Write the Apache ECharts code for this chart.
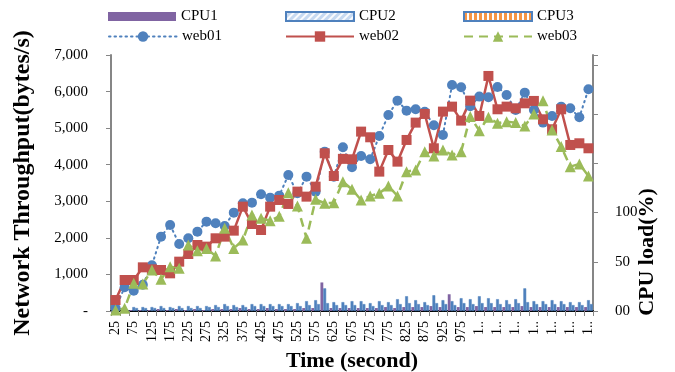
<!DOCTYPE html>
<html>
<head>
<meta charset="utf-8">
<script src="https://cdn.jsdelivr.net/npm/echarts@6/dist/echarts.min.js"></script>
<style>
  html, body { margin: 0; padding: 0; background: #ffffff; }
  #chart { width: 675px; height: 372px; }
</style>
</head>
<body>
<div id="chart"></div>
<script>
// Sampling instants (seconds)
const times = [25, 50, 75, 100, 125, 150, 175, 200, 225, 250, 275, 300, 325, 350, 375, 400, 425, 450,
  475, 500, 525, 550, 575, 600, 625, 650, 675, 700, 725, 750, 775, 800, 825, 850, 875, 900, 925,
  950, 975, 1000, 1025, 1050, 1075, 1100, 1125, 1150, 1175, 1200, 1225, 1250, 1275, 1300, 1325];

// CPU load per server (%)
const cpu1 = [0, 0, 1, 1, 1, 2, 1, 2, 1, 2, 1, 2, 2, 2, 3, 2, 2, 3, 2, 2, 2, 3, 3, 29, 3, 3, 3, 3, 3, 3,
  4, 3, 4, 4, 4, 5, 4, 17, 4, 4, 5, 4, 4, 4, 4, 5, 4, 4, 4, 4, 4, 4, 4];
const cpu2 = [2, 1, 4, 4, 4, 5, 4, 5, 5, 5, 5, 6, 7, 6, 6, 7, 7, 7, 7, 7, 8, 10, 11, 23, 9, 9, 10, 10, 8, 10,
  9, 12, 15, 11, 9, 16, 11, 10, 13, 12, 15, 13, 12, 11, 12, 23, 10, 10, 11, 10, 9, 9, 11];
const cpu3 = [1, 1, 3, 3, 3, 3, 3, 3, 3, 3, 4, 4, 5, 4, 4, 5, 5, 5, 5, 5, 5, 6, 7, 8, 6, 6, 6, 7, 5, 6,
  6, 7, 8, 7, 6, 8, 7, 6, 8, 7, 8, 8, 7, 7, 8, 9, 7, 7, 7, 7, 6, 6, 7];

// Network throughput per web server (bytes/s)
const web01 = [80, 648, 556, 720, 1249, 2033, 2352, 1832, 1988, 2170, 2443, 2397, 2325, 2689, 2944, 2963,
  3191, 3100, 3154, 3720, 3218, 3674, 3263, 4357, 3674, 4476, 3930, 4239, 4148, 4786, 5360, 5752, 5479,
  5516, 5450, 5078, 4813, 6181, 6118, 5600, 5862, 5844, 6127, 5907, 5497, 5971, 5497, 5151, 5333, 5588,
  5543, 5297, 6063];
const web02 = [300, 848, 848, 1194, 1140, 1121, 1030, 1349, 1559, 1805, 1760, 1988, 2033, 2197, 2853, 2379,
  2215, 2853, 3036, 2927, 3264, 3127, 3400, 4312, 3692, 4160, 4148, 4905, 4750, 3811, 4403, 4084, 4677,
  5151, 5388, 4449, 5452, 5588, 5206, 5752, 5333, 6427, 5516, 5588, 5543, 5679, 5744, 5242, 4969, 5516,
  4540, 4586, 4449];
const web03 = [30, 73, 757, 739, 1121, 866, 1213, 1167, 1805, 1650, 1710, 1504, 2262, 1710, 1942, 2626,
  2535, 2470, 2589, 3236, 2872, 1988, 3054, 2945, 2963, 3537, 3328, 3036, 3145, 3218, 3418, 3145, 3810,
  3856, 4357, 4239, 4403, 4266, 4357, 5315, 4932, 5297, 5133, 5178, 5151, 5060, 5388, 5752, 4950, 4495,
  3947, 4021, 3692];

// Axis ranges
const throughputMax = 7000, throughputStep = 1000;
const loadMax = 260, loadStep = 50, loadLabelLimit = 100;

const FONT = '"Liberation Serif", "Times New Roman", serif';
const AXIS_GREY = '#868686';
const BLUE = '#4F81BD', RED = '#C0504D', GREEN = '#9BBB59', PURPLE = '#8064A2', ORANGE = '#F79646';

const chart = echarts.init(document.getElementById('chart'), null, { renderer: 'canvas' });

const legendText = { fontFamily: FONT, fontSize: 15, color: '#000' };
function legendAt(item, left, top, h) {
  return {
    data: [item], left: left, top: top, padding: 0,
    itemWidth: 68, itemHeight: h, selectedMode: false,
    textStyle: legendText
  };
}

const option = {
  animation: false,
  backgroundColor: '#ffffff',
  textStyle: { fontFamily: FONT },
  legend: [
    legendAt({ name: 'CPU1', icon: 'rect', itemStyle: { color: PURPLE, borderWidth: 0 } }, 108, 9, 9),
    legendAt({ name: 'CPU2', icon: 'rect', itemStyle: {
      color: '#C6D9F1', borderColor: BLUE, borderWidth: 2,
      decal: { symbol: 'rect', color: 'rgba(255,255,255,0.9)', dashArrayX: [1, 0], dashArrayY: [2, 3], rotation: -Math.PI / 4 }
    } }, 285, 9, 9),
    legendAt({ name: 'CPU3', icon: 'rect', itemStyle: {
      color: '#ffffff', borderColor: BLUE, borderWidth: 2,
      decal: { symbol: 'rect', color: ORANGE, dashArrayX: [3, 2], dashArrayY: [1, 0], rotation: 0 }
    } }, 463, 9, 9),
    legendAt('web01', 108, 29, 13),
    legendAt('web02', 285, 29, 13),
    legendAt('web03', 463, 29, 13)
  ],
  grid: { left: 111, right: 82, top: 55, bottom: 61, containLabel: false, outerBoundsMode: 'none' },
  xAxis: [{
    type: 'category',
    data: times,
    boundaryGap: true,
    name: 'Time (second)',
    nameLocation: 'middle',
    nameGap: 36,
    nameTextStyle: { fontFamily: FONT, fontSize: 22, fontWeight: 'bold', color: '#000' },
    axisLine: { lineStyle: { color: AXIS_GREY, width: 1.5 } },
    axisTick: { show: true, interval: 0, length: 5, lineStyle: { color: AXIS_GREY, width: 1 } },
    axisLabel: {
      interval: 1, rotate: 90, margin: 10,
      fontFamily: FONT, fontSize: 14, color: '#000',
      formatter: v => (Number(v) >= 1000 ? '1..' : String(v))
    },
    splitLine: { show: false }
  }, {
    type: 'category',
    data: times,
    position: 'top',
    axisLine: { lineStyle: { color: '#000', width: 2 } },
    axisTick: { show: false },
    axisLabel: { show: false },
    splitLine: { show: false }
  }],
  yAxis: [{
    type: 'value',
    min: 0, max: throughputMax, interval: throughputStep,
    name: 'Network Throughput(bytes/s)',
    nameLocation: 'middle',
    nameGap: 76,
    nameTextStyle: { fontFamily: FONT, fontSize: 24, fontWeight: 'bold', color: '#000' },
    axisLine: { show: true, lineStyle: { color: AXIS_GREY, width: 2 } },
    axisTick: { show: true, length: 5, lineStyle: { color: AXIS_GREY, width: 1 } },
    axisLabel: {
      margin: 23, fontFamily: FONT, fontSize: 15, color: '#000',
      formatter: v => (v === 0 ? '-' : v.toLocaleString('en-US'))
    },
    splitLine: { show: false }
  }, {
    type: 'value',
    position: 'right',
    min: 0, max: loadMax, interval: loadStep,
    axisLine: { show: true, lineStyle: { color: AXIS_GREY, width: 2 } },
    axisTick: { show: true, length: 5, lineStyle: { color: AXIS_GREY, width: 1 } },
    axisLabel: {
      margin: 22, fontFamily: FONT, fontSize: 15, color: '#000',
      formatter: v => (v === 0 ? '00' : (v <= loadLabelLimit ? String(v) : ''))
    },
    splitLine: { show: false }
  }],
  graphic: [{
    type: 'text',
    x: 647, y: 252,
    rotation: Math.PI / 2,
    style: {
      text: 'CPU load(%)',
      font: 'bold 22px "Liberation Serif", "Times New Roman", serif',
      fill: '#000',
      align: 'center', verticalAlign: 'middle',
      textAlign: 'center', textVerticalAlign: 'middle'
    }
  }],
  series: [
    {
      name: 'CPU1', type: 'bar', yAxisIndex: 1, data: cpu1,
      barGap: '0%', barCategoryGap: '6%',
      itemStyle: { color: PURPLE }
    },
    {
      name: 'CPU2', type: 'bar', yAxisIndex: 1, data: cpu2,
      barGap: '0%', barCategoryGap: '6%',
      itemStyle: { color: BLUE, borderColor: BLUE, borderWidth: 0.5 }
    },
    {
      name: 'CPU3', type: 'bar', yAxisIndex: 1, data: cpu3,
      barGap: '0%', barCategoryGap: '6%',
      itemStyle: { color: BLUE, borderColor: BLUE, borderWidth: 0.5 }
    },
    {
      name: 'web01', type: 'line', yAxisIndex: 0, data: web01,
      symbol: 'circle', symbolSize: 10, showAllSymbol: true,
      lineStyle: { color: BLUE, width: 2, type: [1.5, 4], cap: 'round' },
      itemStyle: { color: BLUE }
    },
    {
      name: 'web02', type: 'line', yAxisIndex: 0, data: web02,
      symbol: 'rect', symbolSize: 10, showAllSymbol: true,
      lineStyle: { color: RED, width: 2.5, type: 'solid' },
      itemStyle: { color: RED }
    },
    {
      name: 'web03', type: 'line', yAxisIndex: 0, data: web03,
      symbol: 'triangle', symbolSize: 11, showAllSymbol: true,
      lineStyle: { color: GREEN, width: 2.5, type: [9, 6] },
      itemStyle: { color: GREEN }
    }
  ]
};

chart.setOption(option);
</script>
</body>
</html>
